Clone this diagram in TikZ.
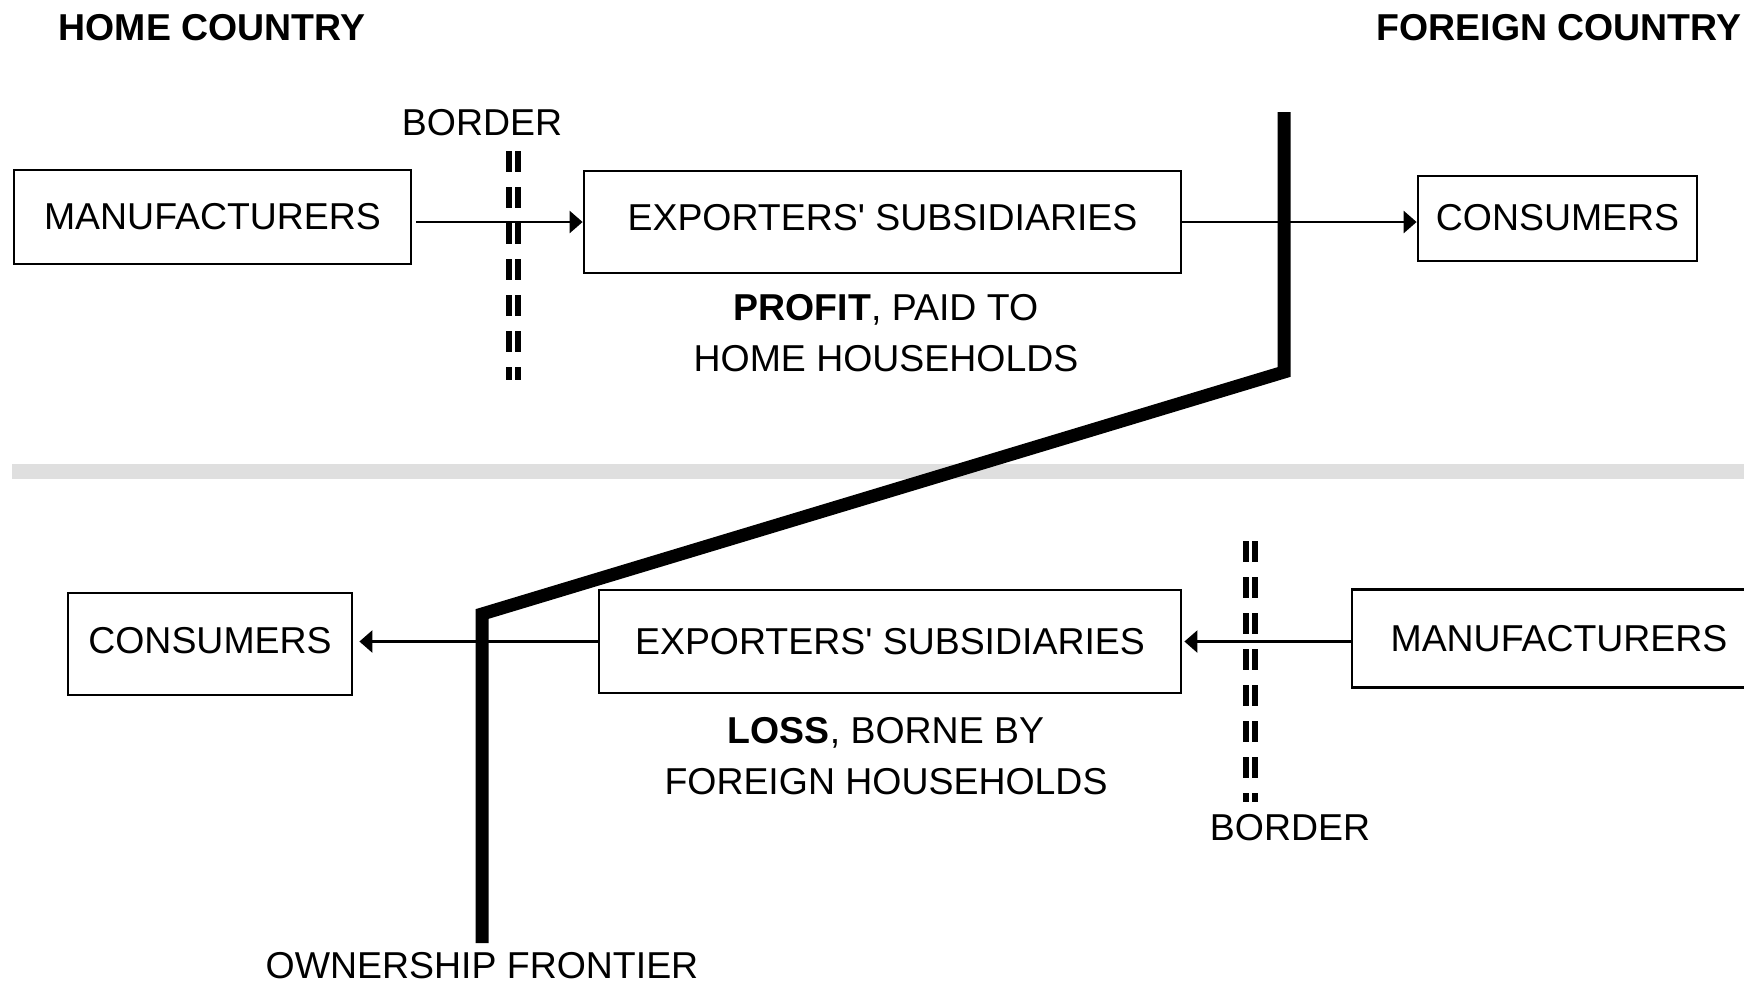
\documentclass[tikz,border=0pt]{standalone}
\usepackage{fontspec}
\setmainfont{Liberation Sans}
\usetikzlibrary{arrows.meta,positioning}

\begin{document}
\begin{tikzpicture}[>={Triangle[length=1.3mm,width=2.2mm]},font=\fontsize{10.65}{14.5}\selectfont,
  box/.style={draw,line width=0.8pt,inner sep=0pt},
  flow/.style={->,line width=0.75pt},
  fence/.style={line width=0.65mm,dash pattern=on 2.1mm off 1.5mm},
  frontier/.style={line width=1.3mm,line join=miter}]
\useasboundingbox (0,0) rectangle (17.44,-9.83);
\fill[gray!25] (0.12,-4.64) rectangle (17.44,-4.79);
\node[font=\bfseries\fontsize{10.65}{12}\selectfont] (homeT) at (2.12,-0.28) {HOME COUNTRY};
\node[font=\bfseries\fontsize{10.65}{12}\selectfont] (foreignT) at (15.59,-0.28) {FOREIGN COUNTRY};
% top half
\node[box,minimum width=3.97cm,minimum height=0.94cm] (mfrH) at (2.125,-2.17) {MANUFACTURERS};
\node[box,minimum width=5.97cm,minimum height=1.02cm,text depth=0.09cm] (expH) at (8.825,-2.22) {EXPORTERS\textquotesingle{} SUBSIDIARIES};
\node[box,minimum width=2.79cm,minimum height=0.85cm,text depth=0.03cm] (conF) at (15.575,-2.185) {CONSUMERS};
\node[align=center] (profit) at (8.86,-3.33) {\textbf{PROFIT}, PAID TO\\HOME HOUSEHOLDS};
% bottom half
\node[box,minimum width=2.84cm,minimum height=1.02cm,text depth=0.07cm] (conH) at (2.10,-6.44) {CONSUMERS};
\node[box,minimum width=5.82cm,minimum height=1.03cm] (expF) at (8.90,-6.415) {EXPORTERS\textquotesingle{} SUBSIDIARIES};
\node[box,minimum width=4.14cm,minimum height=0.98cm] (mfrF) at (15.59,-6.385) {MANUFACTURERS};
\node[align=center] (loss) at (8.86,-7.565) {\textbf{LOSS}, BORNE BY\\FOREIGN HOUSEHOLDS};
% flows
\draw[flow] ([xshift=0.4mm]mfrH.east |- expH.west) -- (expH.west);
\draw[flow] (expH.east) -- (expH.east -| conF.west);
\draw[flow] (expF.west) -- ([xshift=0.6mm]expF.west -| conH.east);
\draw[flow] (mfrF.west |- expF.east) -- ([xshift=0.2mm]expF.east);
% borders
\draw[fence] (5.09,-1.51) -- (5.09,-3.80);
\draw[fence] (5.18,-1.51) -- (5.18,-3.80);
\node (borderH) at (4.82,-1.23) {BORDER};
\draw[fence] (12.46,-5.41) -- (12.46,-8.02);
\draw[fence] (12.55,-5.41) -- (12.55,-8.02);
\node (borderF) at (12.90,-8.28) {BORDER};
% ownership frontier
\draw[frontier] (12.84,-1.12) -- (12.84,-3.72) -- (4.82,-6.14) -- (4.82,-9.43);
\node (owner) at (4.82,-9.66) {OWNERSHIP FRONTIER};
\end{tikzpicture}
\end{document}
